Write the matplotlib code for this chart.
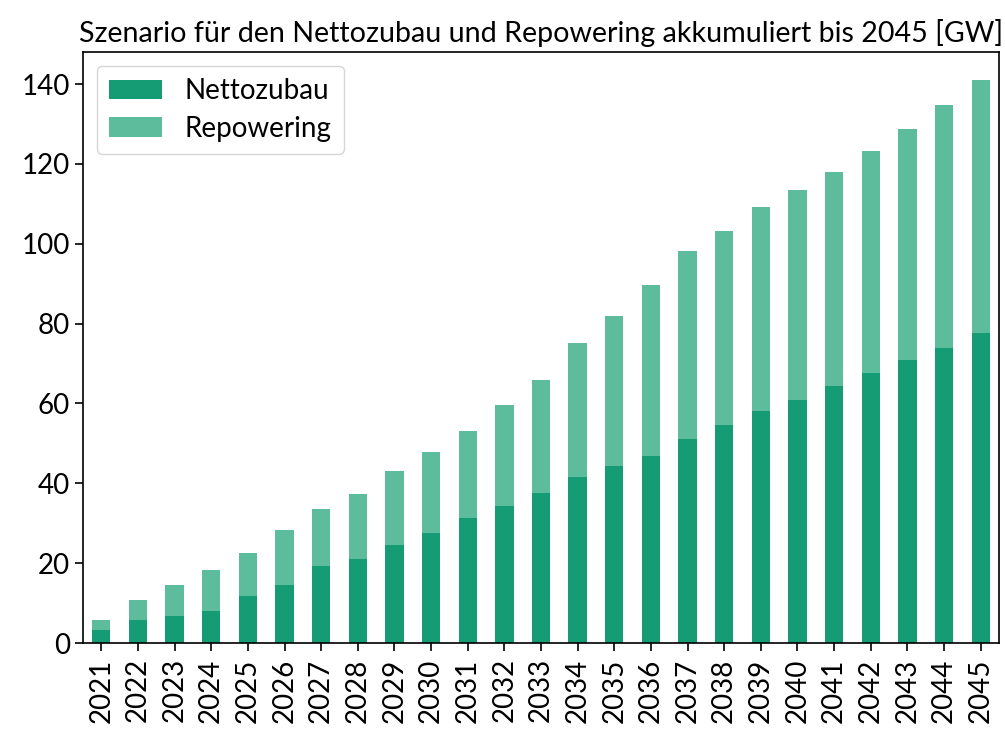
import matplotlib
matplotlib.use("Agg")
import matplotlib.pyplot as plt
import numpy as np

# Cumulative capacity in GW, split into net additions and repowering
years = [str(y) for y in range(2021, 2046)]
nettozubau = [3.3, 5.8, 6.8, 7.9, 11.7, 14.6, 19.2, 21.1, 24.5, 27.6, 31.4, 34.2, 37.7,
              41.5, 44.3, 46.9, 51.1, 54.7, 58.0, 60.9, 64.3, 67.6, 71.0, 74.0, 77.7]
gesamt = [5.8, 10.8, 14.6, 18.4, 22.6, 28.2, 33.5, 37.4, 43.1, 47.9, 53.1, 59.5, 65.8,
          75.1, 81.8, 89.6, 98.1, 103.1, 109.3, 113.4, 118.0, 123.2, 128.7, 134.7, 141.0]
repowering = [g - n for g, n in zip(gesamt, nettozubau)]

title = "Szenario für den Nettozubau und Repowering akkumuliert bis 2045 [GW]"

plt.rcParams["font.family"] = ["Lato", "DejaVu Sans"]

fig = plt.figure(figsize=(10.05, 7.34), dpi=100)
ax = fig.add_axes([83 / 1005, 1 - 643 / 734, (999 - 83) / 1005, (643 - 52) / 734])

x = np.arange(len(years))
ax.bar(x, nettozubau, width=0.5, color="#169c74", label="Nettozubau")
ax.bar(x, repowering, width=0.5, bottom=nettozubau, color="#5dbc9c", label="Repowering")

ax.set_xlim(-0.5, len(years) - 0.5)
ax.set_ylim(0, max(gesamt) * 1.05)
ax.set_xticks(x)
ax.set_xticklabels(years, rotation=90)
ax.set_yticks([0, 20, 40, 60, 80, 100, 120, 140])
ax.tick_params(axis="x", labelsize=20, length=6, width=1.2, pad=5)
ax.tick_params(axis="y", labelsize=20, length=6, width=1.2)
for s in ax.spines.values():
    s.set_linewidth(1.2)

ax.set_title(title, fontsize=20.6, pad=7)
ax.legend(loc="upper left", fontsize=20, handlelength=1.9, borderpad=0.45,
          labelspacing=0.4)

fig.savefig("out.png", dpi=100)
